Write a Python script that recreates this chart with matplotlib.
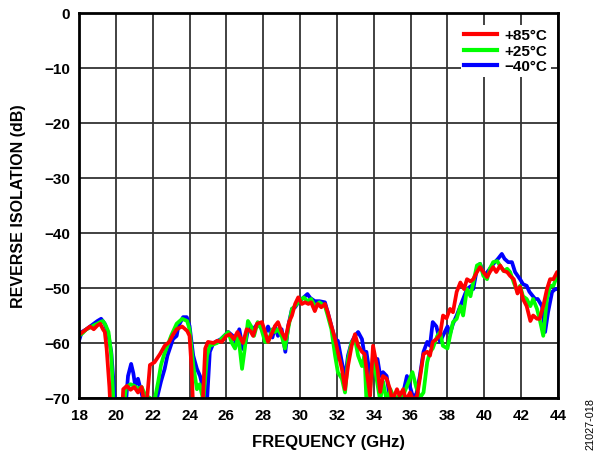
import matplotlib
matplotlib.use("Agg")
import matplotlib.pyplot as plt

plt.rcParams['font.family'] = ['Liberation Sans', 'DejaVu Sans']

# +85 C
f_85 = [18.0, 18.2, 18.4, 18.6, 18.8, 19.0, 19.15, 19.3, 19.4, 19.5, 19.65, 19.75,
        20.3, 20.4, 20.6, 20.8, 21.0, 21.2, 21.4, 21.55, 21.7, 21.85, 22.1, 22.4, 22.65,
        22.9, 23.1, 23.3, 23.6, 23.87, 24.0, 24.1, 24.2, 24.7, 24.85, 25.0, 25.3, 25.5,
        25.75, 26.0, 26.2, 26.4, 26.6, 26.9, 27.1, 27.3, 27.45, 27.66, 27.93, 28.1, 28.26,
        28.45, 28.64, 28.8, 29.0, 29.2, 29.4, 29.56, 29.73, 29.9, 30.1, 30.27, 30.45, 30.6,
        30.8, 30.95, 31.15, 31.35, 31.5, 31.7, 31.9, 32.05, 32.27, 32.44, 32.6, 32.8, 32.98,
        33.15, 33.36, 33.5, 33.65, 33.8, 33.96, 34.2, 34.35, 34.5, 34.7, 34.88, 35.0, 35.26,
        35.4, 35.6, 35.75, 35.97, 36.15, 36.35, 36.5, 36.7, 36.9, 37.05, 37.2, 37.4, 37.6,
        37.76, 37.95, 38.14, 38.3, 38.5, 38.7, 38.9, 39.06, 39.25, 39.4, 39.6, 39.77, 39.95,
        40.15, 40.3, 40.48, 40.65, 40.86, 41.05, 41.24, 41.4, 41.6, 41.8, 41.94, 42.1, 42.3,
        42.5, 42.65, 42.86, 43.0, 43.2, 43.4, 43.57, 43.75, 43.95, 44.0]
db_85 = [-58.5, -58, -57.5, -57, -57.5, -56.8, -56.5, -57.5, -58, -61, -68, -75,
         -75, -68.4, -67.8, -68.5, -68, -69, -68, -71, -70, -64, -63.5, -62, -60.5,
         -59.8, -58.5, -57.5, -57, -57.8, -58.7, -64, -72, -72, -61, -59.8, -60, -59.6,
         -59.8, -58.7, -58.4, -59.3, -58, -60, -57.5, -57.8, -58.7, -56.5, -56.2, -58, -59.8,
         -58.4, -56.9, -56.2, -58, -59.3, -56.2, -55, -52.9, -51.7, -52.9, -52.6, -52.9, -52.6,
         -54.2, -52.9, -53.5, -52.9, -54.4, -56.9, -59.3, -61.6, -64.7, -68.4, -64.2, -60.5, -58.4,
         -60.5, -61.6, -62, -66, -69.6, -60.5, -64.7, -68.9, -66, -66.5, -68.4, -70.5, -68.4,
         -69.6, -68.4, -70.5, -69, -70.5, -69.6, -66.5, -62, -61.6, -62.3, -59.8, -59.3, -58.5,
         -55, -55.5, -53.8, -54.4, -50.7, -49, -50.2, -48.4, -48.8, -48.4, -47.1, -46.2, -47.1,
         -48, -47.1, -46.2, -47.1, -45.9, -46.9, -47.1, -47.8, -48.4, -51, -49.8, -52, -53.3,
         -56, -55, -55.6, -55.6, -53.3, -50.2, -48.4, -48.4, -47.1, -47.2]

# +25 C
f_25 = [18.0, 18.2, 18.4, 18.6, 18.8, 19.0, 19.15, 19.3, 19.45, 19.6, 19.75, 19.9,
        20.4, 20.55, 20.8, 21.0, 21.2, 21.4, 21.6, 22.1, 22.3, 22.45, 22.6, 22.8, 23.0,
        23.3, 23.6, 23.87, 24.0, 24.2, 24.4, 24.55, 24.75, 24.95, 25.1, 25.5, 25.8, 26.1,
        26.3, 26.47, 26.65, 26.85, 27.0, 27.17, 27.35, 27.5, 27.7, 27.9, 28.1, 28.26, 28.5,
        28.64, 28.8, 29.0, 29.18, 29.35, 29.56, 29.73, 29.9, 30.2, 30.4, 30.6, 30.8, 31.05,
        31.35, 31.5, 31.7, 31.9, 32.05, 32.27, 32.44, 32.6, 32.8, 32.98, 33.15, 33.36, 33.5,
        33.6, 33.8, 33.96, 34.2, 34.35, 34.5, 34.7, 34.9, 35.1, 35.6, 36.1, 36.3, 36.5,
        36.7, 36.9, 37.05, 37.2, 37.45, 37.6, 37.75, 38.0, 38.14, 38.3, 38.5, 38.7, 38.85,
        39.06, 39.25, 39.4, 39.6, 39.77, 39.95, 40.15, 40.3, 40.48, 40.7, 40.86, 41.05, 41.24,
        41.4, 41.6, 41.8, 41.94, 42.1, 42.3, 42.5, 42.65, 42.86, 43.0, 43.2, 43.4, 43.57,
        43.75, 43.95, 44.0]
db_25 = [-58.7, -58.2, -57.5, -57.2, -56.8, -56.5, -56.2, -56, -56.8, -58, -62, -73,
         -73, -68, -67.5, -67.8, -68.3, -68, -69.5, -70.5, -67, -64, -62.3, -60.5, -58.7,
         -56.5, -55.6, -56, -57.5, -64, -68.4, -67.5, -70.5, -62.3, -60.5, -60, -59, -58,
         -60, -61, -58.7, -64.7, -61, -56, -57, -58.7, -56.2, -57.5, -59.8, -59.8, -57.5,
         -58, -57.5, -58.7, -61, -57.5, -53.8, -53.3, -52.6, -51.7, -52.4, -52, -53.3, -52.6,
         -53.3, -55, -57.5, -62.3, -65.3, -66.5, -69, -63, -59.8, -59.3, -62.3, -64.2, -62.3,
         -70.5, -68.4, -62.3, -67.5, -70.5, -67, -70.5, -68.4, -70, -69.5, -65.3, -68, -70,
         -69, -63.5, -61.6, -61, -58.7, -58, -60.5, -61, -58.7, -56.2, -55.6, -53.3, -55,
         -50.2, -51.5, -49, -45.9, -45.6, -47.8, -48.4, -46.5, -45.3, -45.1, -46, -46.9, -46.5,
         -47.1, -49, -50.7, -49.6, -51.5, -52, -53.3, -52, -53.8, -55.6, -58.7, -52, -49.6,
         -49.6, -47.8, -47.8]

# -40 C
f_40 = [18.0, 18.15, 18.4, 18.6, 18.8, 19.0, 19.2, 19.4, 19.6, 19.75, 19.95, 20.0,
        20.45, 20.66, 20.83, 20.95, 21.05, 21.2, 21.35, 21.5, 22.2, 22.45, 22.65, 22.8, 23.1,
        23.3, 23.4, 23.65, 23.85, 24.0, 24.2, 24.4, 24.57, 24.75, 24.95, 25.1, 25.3, 25.7,
        26.1, 26.35, 26.5, 26.7, 26.9, 27.05, 27.2, 27.45, 27.7, 27.95, 28.1, 28.26, 28.5,
        28.64, 28.8, 29.0, 29.2, 29.35, 29.56, 29.73, 29.9, 30.1, 30.4, 30.55, 30.8, 31.05,
        31.35, 31.5, 31.7, 31.9, 32.05, 32.27, 32.44, 32.6, 32.8, 32.98, 33.15, 33.36, 33.5,
        33.6, 33.8, 33.96, 34.2, 34.35, 34.5, 34.7, 34.85, 35.0, 35.5, 35.8, 35.97, 36.1,
        36.3, 36.5, 36.7, 36.9, 37.05, 37.2, 37.4, 37.6, 37.75, 38.0, 38.14, 38.3, 38.5,
        38.7, 39.06, 39.3, 39.4, 39.6, 39.77, 40.0, 40.3, 40.5, 40.74, 40.95, 41.1, 41.3,
        41.5, 41.67, 41.94, 42.1, 42.3, 42.45, 42.76, 42.9, 43.13, 43.3, 43.46, 43.68, 43.85,
        44.0]
db_40 = [-59.6, -58, -57.5, -57, -56.5, -56, -55.6, -56.5, -58.7, -61.6, -70.5, -75,
         -75, -66, -63.8, -65.5, -67.8, -66.5, -68.5, -70.5, -70.5, -67, -64.7, -62.3, -59.3,
         -58.7, -56.9, -55.3, -55.3, -56.9, -62.3, -64.7, -66, -68.4, -70.5, -61.6, -60, -59.3,
         -58, -58.7, -59.8, -57.5, -61.1, -59.8, -57, -57.5, -56.5, -57.5, -58.3, -57, -59,
         -57, -58.7, -57.5, -61.6, -57, -53.8, -53.5, -52.6, -52, -51.1, -51.8, -52.4, -52.4,
         -52.6, -54.4, -56.9, -59.3, -59.6, -63.5, -66.5, -62.3, -59.8, -58.7, -58, -59.3, -62.3,
         -61.6, -66, -63.5, -62.9, -66, -65.3, -66, -69.5, -70.5, -70.5, -66, -68, -69.5,
         -69.5, -66, -61.6, -59.8, -60.5, -56.2, -57, -59.8, -58.7, -57, -58.3, -56.5, -55,
         -53.3, -50.2, -49.6, -50.2, -46.5, -45.6, -47.8, -46.5, -45.6, -44.7, -43.8, -44.7, -45.3,
         -45.3, -47.1, -48.4, -49.3, -49.6, -50.7, -52, -52, -53.3, -58, -54.4, -50.7, -50.2,
         -50.2]

x_ticks = [18, 20, 22, 24, 26, 28, 30, 32, 34, 36, 38, 40, 42, 44]
y_ticks = [0, -10, -20, -30, -40, -50, -60, -70]
labels = ['+85°C', '+25°C', '\u221240°C']
colors = ['#ff0000', '#00ff00', '#0000ff']

fig = plt.figure(figsize=(5.97, 4.52), dpi=100)
ax = fig.add_axes([79/597, 1-399/452, (558-79)/597, (399-14)/452])

lb, = ax.plot(f_40, db_40, color=colors[2], lw=2.7, solid_joinstyle='round')
lg, = ax.plot(f_25, db_25, color=colors[1], lw=2.7, solid_joinstyle='round')
lr, = ax.plot(f_85, db_85, color=colors[0], lw=2.7, solid_joinstyle='round')

ax.set_xlim(18, 44)
ax.set_ylim(-70, 0)
ax.set_xticks(x_ticks)
ax.set_yticks(y_ticks)
ax.grid(True, color='#333333', lw=1.3)
ax.set_axisbelow(True)
for s in ax.spines.values():
    s.set_linewidth(2.0)
ax.tick_params(axis='x', length=0, labelsize=11, pad=7)
ax.tick_params(axis='y', length=0, labelsize=11, pad=6.5)
for t in ax.get_xticklabels() + ax.get_yticklabels():
    t.set_fontweight('bold')
ax.set_xlabel('FREQUENCY (GHz)', fontsize=12, fontweight='bold')
ax.set_ylabel('REVERSE ISOLATION (dB)', fontsize=11.5, fontweight='bold')
ax.xaxis.set_label_coords(0.52, -0.093)
ax.yaxis.set_label_coords(-0.111, 0.5)

leg = ax.legend([lr, lg, lb], labels, loc='upper right', frameon=True,
                fancybox=False, edgecolor='none', facecolor='white', framealpha=1,
                prop={'weight': 'bold', 'size': 11}, handlelength=2.15,
                handletextpad=0.45, labelspacing=0.1, borderpad=0.25,
                borderaxespad=0, bbox_to_anchor=(0.985, 0.97))
for h in leg.get_lines():
    h.set_linewidth(3.0)

fig.text(590/597, 1-424/452, '21027-018', rotation=90, fontsize=7.8,
         ha='center', va='center')

fig.savefig('out.png', dpi=100)
